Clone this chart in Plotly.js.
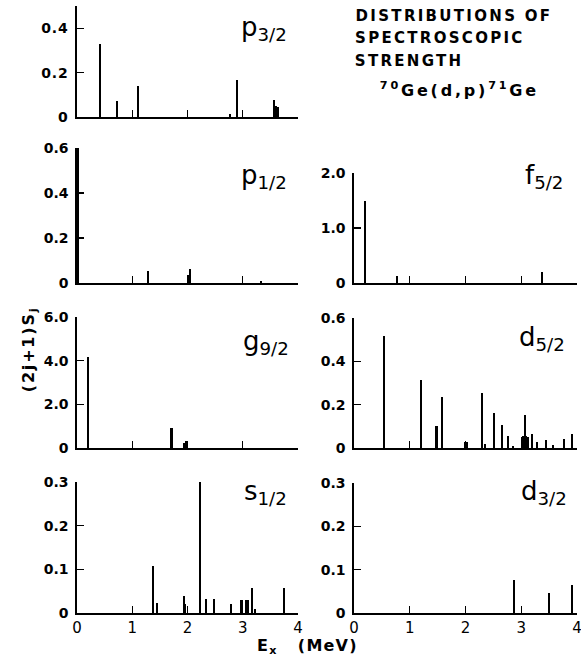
<!DOCTYPE html>
<html><head><meta charset="utf-8">
<script src="https://cdn.plot.ly/plotly-3.0.1.min.js"></script>
<style>
html,body{margin:0;padding:0;background:#fff}
g.annotation[data-index="7"] text, g.annotation[data-index="8"] text, g.annotation[data-index="9"] text { letter-spacing: 2.3px; }
g.annotation[data-index="10"] text { letter-spacing: 2.8px; }
g.annotation[data-index="11"] text { letter-spacing: 1.8px; }
g.annotation[data-index="12"] text { letter-spacing: 1.2px; }
.ytick text { letter-spacing: 0.8px; }
</style>
</head><body><div id="chart" style="width:581px;height:667px"></div>
<script>
// ---- data (excitation energy in MeV, (2j+1)S_j) ----
const E_p32 = [0.42, 0.73, 1.10, 2.77, 2.90, 3.57, 3.61, 3.64];
const S_p32 = [0.33, 0.073, 0.14, 0.012, 0.166, 0.076, 0.05, 0.045];
const E_p12 = [0.02, 1.29, 2.01, 2.04, 3.33];
const S_p12 = [0.615, 0.053, 0.036, 0.064, 0.01];
const E_g92 = [0.20, 1.71, 1.93, 1.97];
const S_g92 = [4.15, 0.92, 0.25, 0.30];
const E_s12 = [1.37, 1.45, 1.94, 1.96, 2.22, 2.34, 2.48, 2.78, 2.96, 2.99, 3.06, 3.10, 3.17, 3.22, 3.74];
const S_s12 = [0.107, 0.022, 0.039, 0.02, 0.30, 0.032, 0.032, 0.02, 0.03, 0.03, 0.03, 0.03, 0.058, 0.01, 0.058];
const E_f52 = [0.20, 0.77, 3.38];
const S_f52 = [1.49, 0.12, 0.20];
const E_d52 = [0.53, 1.20, 1.48, 1.58, 2.00, 2.03, 2.29, 2.35, 2.51, 2.66, 2.76, 2.86, 3.01, 3.04, 3.06, 3.09, 3.12, 3.20, 3.28, 3.44, 3.57, 3.76, 3.91];
const S_d52 = [0.515, 0.316, 0.10, 0.236, 0.03, 0.03, 0.254, 0.018, 0.162, 0.106, 0.057, 0.01, 0.05, 0.055, 0.152, 0.055, 0.05, 0.064, 0.03, 0.037, 0.016, 0.04, 0.064];
const E_d32 = [2.87, 3.49, 3.91];
const S_d32 = [0.076, 0.047, 0.065];

const xTickVals = [0, 1, 2, 3, 4];
const xTickText = ['0', '1', '2', '3', '4'];
const yt_p32 = [0, 0.2, 0.4], ytt_p32 = ['0', '0.2', '0.4'];
const yt_p12 = [0, 0.2, 0.4, 0.6], ytt_p12 = ['0', '0.2', '0.4', '0.6'];
const yt_g92 = [0, 2, 4, 6], ytt_g92 = ['0', '2.0', '4.0', '6.0'];
const yt_s12 = [0, 0.1, 0.2, 0.3], ytt_s12 = ['0', '0.1', '0.2', '0.3'];
const yt_f52 = [0, 1, 2], ytt_f52 = ['0', '1.0', '2.0'];
const yt_d52 = [0, 0.2, 0.4, 0.6], ytt_d52 = ['0', '0.2', '0.4', '0.6'];
const yt_d32 = [0, 0.1, 0.2, 0.3], ytt_d32 = ['0', '0.1', '0.2', '0.3'];

const W = 581, H = 667;
const px = x => x / W, py = y => 1 - y / H;
const FONT = 'DejaVu Sans, sans-serif';

const panels = [
  {E: E_p32, S: S_p32, yt: yt_p32, ytt: ytt_p32, ymax: 0.5, col: 0, top: 6,   base: 117, lab: 'p<sub>3/2</sub>', lx: 264, ly: 29, bottom: false},
  {E: E_p12, S: S_p12, yt: yt_p12, ytt: ytt_p12, ymax: 0.6, col: 0, top: 148, base: 283, lab: 'p<sub>1/2</sub>', lx: 264, ly: 176, bottom: false},
  {E: E_g92, S: S_g92, yt: yt_g92, ytt: ytt_g92, ymax: 6,   col: 0, top: 317, base: 448, lab: 'g<sub>9/2</sub>', lx: 266, ly: 343, bottom: false},
  {E: E_s12, S: S_s12, yt: yt_s12, ytt: ytt_s12, ymax: 0.3, col: 0, top: 482, base: 613, lab: 's<sub>1/2</sub>', lx: 265, ly: 493, bottom: true},
  {E: E_f52, S: S_f52, yt: yt_f52, ytt: ytt_f52, ymax: 2,   col: 1, top: 173, base: 283, lab: 'f<sub>5/2</sub>', lx: 544, ly: 176, bottom: false},
  {E: E_d52, S: S_d52, yt: yt_d52, ytt: ytt_d52, ymax: 0.6, col: 1, top: 318, base: 448, lab: 'd<sub>5/2</sub>', lx: 542, ly: 338, bottom: false},
  {E: E_d32, S: S_d32, yt: yt_d32, ytt: ytt_d32, ymax: 0.3, col: 1, top: 483, base: 613, lab: 'd<sub>3/2</sub>', lx: 544, ly: 493, bottom: true}
];
const cols = [[77, 298], [354, 577]];

const data = [];
const layout = {
  width: W, height: H, margin: {l: 0, r: 0, t: 0, b: 0},
  paper_bgcolor: '#fff', plot_bgcolor: 'rgba(0,0,0,0)',
  showlegend: false, bargap: 0,
  font: {family: FONT, color: '#000', size: 14},
  annotations: []
};

panels.forEach((p, i) => {
  const k = i + 1, sfx = (k === 1 ? '' : String(k));
  data.push({
    type: 'bar', x: p.E, y: p.S, width: 0.037,
    marker: {color: '#000', line: {width: 0}},
    xaxis: 'x' + sfx, yaxis: 'y' + sfx, hoverinfo: 'x+y'
  });
  const c = cols[p.col];
  layout['xaxis' + sfx] = {
    domain: [px(c[0]), px(c[1])], range: [0, 4], anchor: 'y' + sfx,
    showline: true, linecolor: '#000', linewidth: 1.7,
    ticks: 'inside', ticklen: 7, tickwidth: 1.4, tickcolor: '#000',
    tickvals: xTickVals, ticktext: xTickText, ticklabeloverflow: 'allow',
    showticklabels: p.bottom, tickfont: {family: FONT, size: 15, color: '#000'},
    showgrid: false, zeroline: false, fixedrange: true
  };
  layout['yaxis' + sfx] = {
    domain: [py(p.base), py(p.top)], range: [0, p.ymax], anchor: 'x' + sfx,
    showline: true, linecolor: '#000', linewidth: 1.7,
    ticks: 'inside', ticklen: 7, tickwidth: 1.4, tickcolor: '#000',
    tickvals: p.yt, ticktext: p.ytt, ticklabelstandoff: 4,
    tickfont: {family: FONT, size: 14, color: '#000', weight: 'bold'},
    showgrid: false, zeroline: false, fixedrange: true
  };
  layout.annotations.push({
    xref: 'paper', yref: 'paper', x: px(p.lx), y: py(p.ly), xanchor: 'center', yanchor: 'middle',
    text: p.lab, showarrow: false, font: {family: FONT, size: 26, color: '#000'}
  });
});

const titleLines = [
  {t: 'DISTRIBUTIONS OF', x: 454, y: 16, s: 15},
  {t: 'SPECTROSCOPIC', x: 440, y: 38, s: 15},
  {t: 'STRENGTH', x: 409, y: 61, s: 15},
  {t: '<sup>70</sup>Ge(d,p)<sup>71</sup>Ge', x: 459, y: 90, s: 16}
];
titleLines.forEach(l => layout.annotations.push({
  xref: 'paper', yref: 'paper', x: px(l.x), y: py(l.y), xanchor: 'center', yanchor: 'middle',
  text: l.t, showarrow: false, font: {family: FONT, size: l.s, color: '#000', weight: 'bold'}
}));

layout.annotations.push({
  xref: 'paper', yref: 'paper', x: px(30), y: py(350), xanchor: 'center', yanchor: 'middle',
  text: '(2j+1)S<sub>j</sub>', textangle: -90, showarrow: false,
  font: {family: FONT, size: 16, color: '#000', weight: 'bold'}
});
layout.annotations.push({
  xref: 'paper', yref: 'paper', x: px(307), y: py(646), xanchor: 'center', yanchor: 'middle',
  text: 'E<sub>x</sub>   (MeV)', showarrow: false,
  font: {family: FONT, size: 16, color: '#000', weight: 'bold'}
});

Plotly.newPlot('chart', data, layout, {staticPlot: true, displayModeBar: false});
</script></body></html>
